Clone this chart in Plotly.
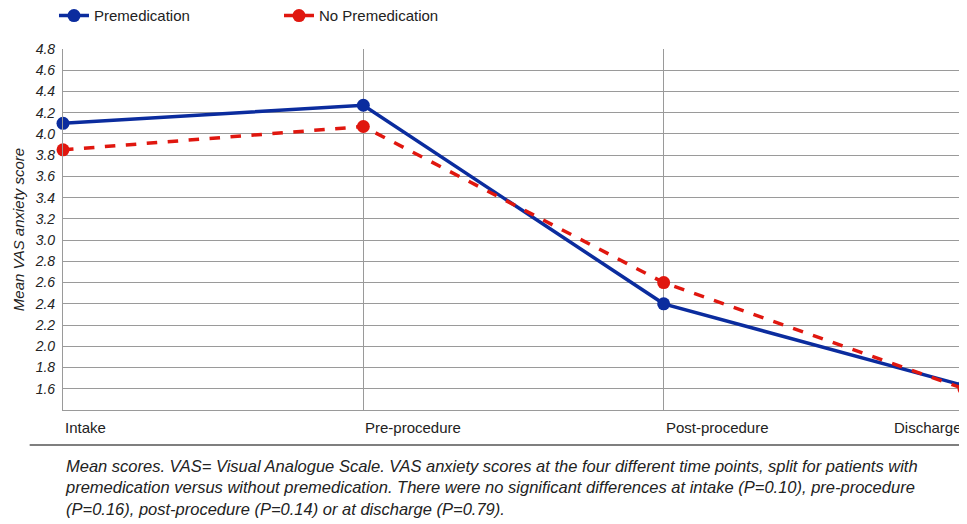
import plotly.graph_objects as go

time_points = ["Intake", "Pre-procedure", "Post-procedure", "Discharge"]
premedication = [4.10, 4.27, 2.40, 1.63]
no_premedication = [3.85, 4.07, 2.60, 1.60]
y_ticks = [1.6, 1.8, 2.0, 2.2, 2.4, 2.6, 2.8, 3.0, 3.2, 3.4, 3.6, 3.8, 4.0, 4.2, 4.4, 4.6, 4.8]

caption = (
    "Mean scores. VAS= Visual Analogue Scale. VAS anxiety scores at the four different time points, split for patients with<br>"
    "premedication versus without premedication. There were no significant differences at intake (P=0.10), pre-procedure<br>"
    "(P=0.16), post-procedure (P=0.14) or at discharge (P=0.79)."
)

BLUE = "#0B2C9E"
RED = "#E0170F"
GRID = "#9a9a9a"
FONT = "Liberation Sans, Arial, sans-serif"

x_idx = list(range(len(time_points)))

fig = go.Figure()
fig.add_trace(go.Scatter(
    x=x_idx, y=premedication, name="Premedication", mode="lines+markers",
    line=dict(color=BLUE, width=3.5),
    marker=dict(color=BLUE, size=13),
    cliponaxis=False,
))
fig.add_trace(go.Scatter(
    x=x_idx, y=no_premedication, name="No Premedication", mode="lines+markers",
    line=dict(color=RED, width=3.5, dash="dash"),
    marker=dict(color=RED, size=13),
    cliponaxis=False,
))

# x labels: first left-aligned, last right-aligned, like the figure
for i, lab in enumerate(time_points):
    anchor = "right" if i == len(time_points) - 1 else "left"
    fig.add_annotation(
        x=i, y=-0.02, xref="x", yref="paper", text=lab, showarrow=False,
        xanchor=anchor, yanchor="top",
        font=dict(family=FONT, size=15, color="#222"),
    )

fig.add_annotation(
    x=0, y=-0.125, xref="paper", yref="paper", text=caption, showarrow=False,
    xanchor="left", yanchor="top", align="left",
    font=dict(family=FONT, size=16.5, color="#222", style="italic"),
)

fig.add_shape(
    type="line", xref="paper", yref="paper",
    x0=-0.037, x1=1.0, y0=-0.097, y1=-0.097,
    line=dict(color="#555", width=1.5),
)

# page body has an 8px margin, so margins are offset by that
fig.update_layout(
    width=967, height=524,
    margin=dict(l=55, r=11, t=41, b=122),
    paper_bgcolor="white", plot_bgcolor="white",
    font=dict(family=FONT, color="#222"),
    legend=dict(
        orientation="h", x=-0.01, y=0.985, xref="paper", yref="container",
        xanchor="left", yanchor="middle",
        font=dict(family=FONT, size=15, color="#222"),
        entrywidth=180, entrywidthmode="pixels",
        bgcolor="rgba(0,0,0,0)",
    ),
    showlegend=True,
)
fig.update_xaxes(
    range=[0, 3], tickvals=x_idx, showticklabels=False,
    showgrid=True, gridcolor=GRID, gridwidth=1.2,
    showline=True, linecolor=GRID, linewidth=1.2,
    zeroline=False, automargin=False,
)
fig.update_yaxes(
    range=[1.4, 4.8], tickvals=y_ticks, ticktext=[f"{v:.1f}" for v in y_ticks],
    tickfont=dict(family=FONT, size=14, color="#222", style="italic"),
    showgrid=True, gridcolor=GRID, gridwidth=1.2,
    showline=True, linecolor=GRID, linewidth=1.2,
    zeroline=False, ticks="", ticklabelstandoff=4, automargin=False,
    title=dict(text="Mean VAS anxiety score", standoff=6,
               font=dict(family=FONT, size=15, color="#222", style="italic")),
)

fig.write_html("out.html")
